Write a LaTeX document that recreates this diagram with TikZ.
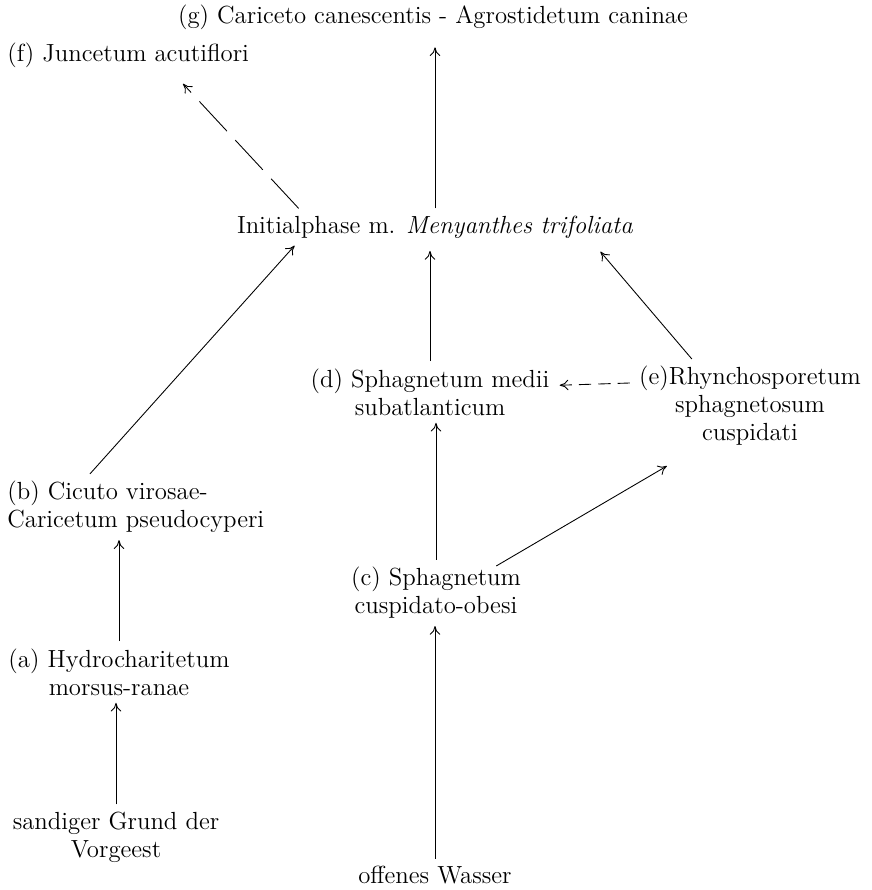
\documentclass[tikz,border=0pt]{standalone}
\usepackage{fontspec}
\usetikzlibrary{calc}
\usetikzlibrary{arrows.meta}

\begin{document}
\begin{tikzpicture}[x=0.02cm, y=-0.02cm,
    every node/.style={font=\fontsize{14.1}{15.9}\selectfont, inner sep=4pt},
    arr/.style={line width=0.5pt, -{To[length=5pt,width=6pt]}},
    darr/.style={arr, dash pattern=on 23pt off 7pt},
    sarr/.style={arr, dash pattern=on 7pt off 4pt}]

    \useasboundingbox (0, 0) rectangle (872, 890);
    \node (g) at (433, 17) {(g) Cariceto canescentis - Agrostidetum caninae};
    \node [anchor=west] (f) at (0, 55) {(f) Juncetum acutiflori};
    \node (init) at (435, 227) {Initialphase m. \textit{Menyanthes trifoliata}};
    \node [align=center] (d) at (430, 392) {(d) Sphagnetum medii\\subatlanticum};
    \node [align=center] (e) at (750, 406) {(e)Rhynchosporetum\\sphagnetosum\\cuspidati};
    \node [anchor=west, align=left] (b) at (0, 507) {(b) Cicuto virosae-\\Caricetum pseudocyperi};
    \node [align=center] (c) at (436, 593) {(c) Sphagnetum\\cuspidato-obesi};
    \node [align=center] (a) at (119, 672) {(a) Hydrocharitetum\\morsus-ranae};
    \node [align=center] (sand) at (116, 837) {sandiger Grund der\\Vorgeest};
    \node (wasser) at (435, 875) {offenes Wasser};

    \draw [arr, shorten >=6pt] (init.north) -- (init.north |- g.south);
    \draw [darr] ($(init.north west)+(69,0)$) -- ($(f.south west)+(183,9)$);
    \draw [arr, shorten >=3pt] (d.north) -- (d.north |- init.south);
    \draw [arr] ($(e.north west)+(60,0)$) -- ($(init.south east)+(-40,6)$);
    \draw [sarr] ($(e.north west)+(-2,24)$) -- ($(d.north east)+(3,24)$);
    \draw [arr] ($(b.north west)+(90,0)$) -- ($(init.south west)+(65,0)$);
    \draw [arr] (c.north) -- (c.north |- d.south);
    \draw [arr] ($(c.north east)+(-32,6)$) -- ($(e.south west)+(35,13)$);
    \draw [arr] (a.north) -- (a.north |- b.south);
    \draw [arr] (sand.north) -- (sand.north |- a.south);
    \draw [arr] (wasser.north) -- (wasser.north |- c.south);
\end{tikzpicture}
\end{document}
